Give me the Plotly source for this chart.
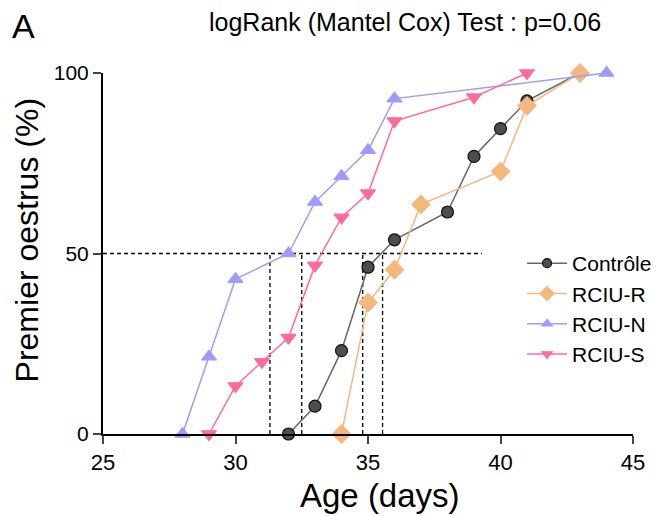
import plotly.graph_objects as go

# Data
ctrl_age = [32, 33, 34, 35, 36, 38, 39, 40, 41, 43]
ctrl_pct = [0, 7.7, 23.1, 46.2, 53.8, 61.5, 76.9, 84.6, 92.3, 100]

r_age = [34, 35, 36, 37, 40, 41, 43]
r_pct = [0, 36.4, 45.5, 63.6, 72.7, 90.9, 100]

n_age = [28, 29, 30, 32, 33, 34, 35, 36, 44]
n_pct = [0, 21.4, 42.9, 50.0, 64.3, 71.4, 78.6, 92.9, 100]

s_age = [29, 30, 31, 32, 33, 34, 35, 36, 39, 41]
s_pct = [0, 13.3, 20.0, 26.7, 46.7, 60.0, 66.7, 86.7, 93.3, 100]

median_ages = [31.3, 32.5, 34.8, 35.55]
half_level = 50
half_line_end = 39.3

x_ticks = [25, 30, 35, 40, 45]
y_ticks = [0, 50, 100]

FONT = "Arial, Liberation Sans, sans-serif"

# the page has an 8px body margin; the figure is placed to compensate
OFF = 8
W, H = 661, 516
PLOT_L, PLOT_R, PLOT_T, PLOT_B = 103, 643, 73, 434  # target page pixels
L, T = PLOT_L - OFF, PLOT_T - OFF
R, B = W - (PLOT_R - OFF), H - (PLOT_B - OFF)
PW, PH = W - L - R, H - T - B


def px_to_paper(px, py):
    return (px - OFF - L) / PW, (H - B - (py - OFF)) / PH


fig = go.Figure()

dash_style = dict(color="black", width=1.3, dash="4px,3px")
fig.add_trace(go.Scatter(x=[25, half_line_end], y=[half_level, half_level], mode="lines",
                         line=dash_style, showlegend=False, hoverinfo="skip", cliponaxis=False))
for m in median_ages:
    fig.add_trace(go.Scatter(x=[m, m], y=[0, half_level], mode="lines",
                             line=dash_style, showlegend=False, hoverinfo="skip"))

series = [
    ("Contrôle", ctrl_age, ctrl_pct, "#666666", "#4d4d4d", "circle", 12, "#111111", 9),
    ("RCIU-R", r_age, r_pct, "#F4B77E", "#F4B77E", "diamond", 14, "#F4B77E", 11),
    ("RCIU-N", n_age, n_pct, "#9C9CFF", "#9C9CFF", "triangle-up", 13, "#9C9CFF", 9),
    ("RCIU-S", s_age, s_pct, "#FF6B9A", "#FF6B9A", "triangle-down", 13, "#FF6B9A", 9),
]
for name, xs, ys, lc, fc, sym, sz, oc, lsz in series:
    fig.add_trace(go.Scatter(
        x=xs, y=ys, name=name, mode="lines+markers",
        line=dict(color=lc, width=1.5),
        marker=dict(symbol=sym, size=sz, color=fc, line=dict(color=oc, width=1.2)),
        cliponaxis=False, showlegend=False,
    ))
# legend entries (smaller symbols, as in the reference legend)
for name, xs, ys, lc, fc, sym, sz, oc, lsz in series:
    fig.add_trace(go.Scatter(
        x=[None], y=[None], name=name, mode="lines+markers",
        line=dict(color=lc, width=1.5),
        marker=dict(symbol=sym, size=lsz, color=fc, line=dict(color=oc, width=1.2)),
        showlegend=True,
    ))

leg_x, leg_y = px_to_paper(530, 243)
title_x, title_y = px_to_paper(411, 22)
a_x, a_y = px_to_paper(22, 26)
xt_x, xt_y = px_to_paper(385, 495)
yt_x, yt_y = px_to_paper(26, 240)

fig.update_layout(
    width=W, height=H,
    margin=dict(l=L, r=R, t=T, b=B, pad=0),
    paper_bgcolor="white", plot_bgcolor="white",
    font=dict(family=FONT, color="black", size=20),
    showlegend=True,
    legend=dict(x=leg_x, y=leg_y, xanchor="left", yanchor="top",
                font=dict(size=21, family=FONT), bgcolor="rgba(0,0,0,0)",
                tracegroupgap=0, itemwidth=40),
    xaxis=dict(range=[25, 45], tickvals=x_ticks, ticks="outside", ticklen=8, tickwidth=2,
               showline=True, linewidth=2, linecolor="black", showgrid=False, zeroline=False,
               tickfont=dict(size=22)),
    yaxis=dict(range=[0, 100], tickvals=y_ticks, ticks="outside", ticklen=8, tickwidth=2,
               showline=True, linewidth=2, linecolor="black", showgrid=False, zeroline=False,
               tickfont=dict(size=21)),
    annotations=[
        dict(text="logRank (Mantel Cox) Test : p=0.06", x=title_x, y=title_y,
             xref="paper", yref="paper", xanchor="center", yanchor="middle",
             showarrow=False, font=dict(size=25)),
        dict(text="A", x=a_x, y=a_y, xref="paper", yref="paper",
             xanchor="center", yanchor="middle", showarrow=False, font=dict(size=34)),
        dict(text="Age (days)", x=xt_x, y=xt_y, xref="paper", yref="paper",
             xanchor="center", yanchor="middle", showarrow=False, font=dict(size=33)),
        dict(text="Premier oestrus (%)", x=yt_x, y=yt_y, xref="paper", yref="paper",
             xanchor="center", yanchor="middle", showarrow=False, textangle=-90,
             font=dict(size=32)),
    ],
)

fig.write_html("out.html")
